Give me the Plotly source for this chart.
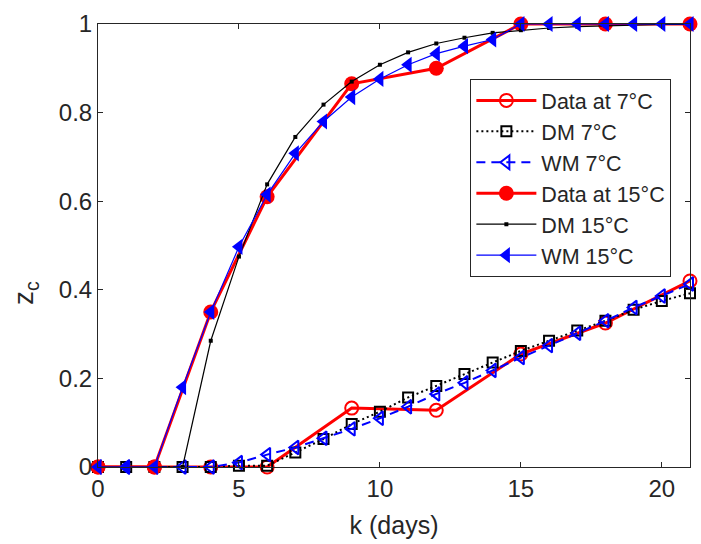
import plotly.graph_objects as go

# Sampling days
days_data = [0, 2, 4, 6, 9, 12, 15, 18, 21]
days_model = list(range(0, 22))

# Measured fraction z_c
data_7 = [0, 0, 0, 0, 0.133, 0.128, 0.255, 0.325, 0.42]
data_15 = [0, 0, 0.35, 0.61, 0.865, 0.90, 1, 1, 1]

# Model predictions (DM / WM) at each day
dm_7 = [0, 0, 0, 0, 0, 0.003, 0.003, 0.033, 0.063, 0.097, 0.125, 0.157,
        0.183, 0.21, 0.236, 0.262, 0.285, 0.308, 0.33, 0.355, 0.375, 0.392]
wm_7 = [0, 0, 0, 0, 0, 0.01, 0.028, 0.044, 0.065, 0.086, 0.11, 0.136,
        0.165, 0.19, 0.218, 0.247, 0.274, 0.302, 0.33, 0.36, 0.386, 0.413]
dm_15 = [0, 0, 0, 0, 0.285, 0.475, 0.638, 0.745, 0.818, 0.87, 0.908, 0.936,
         0.956, 0.969, 0.98, 0.986, 0.991, 0.994, 0.996, 0.998, 0.999, 0.999]
wm_15 = [0, 0, 0, 0.18, 0.35, 0.497, 0.615, 0.708, 0.78, 0.835, 0.876, 0.908,
         0.933, 0.95, 0.965, 1, 1, 1, 1, 1, 1, 1]

x_ticks = [0, 5, 10, 15, 20]
y_ticks = [0, 0.2, 0.4, 0.6, 0.8, 1]
y_tick_text = ["0", "0.2", "0.4", "0.6", "0.8", "1"]

RED = "#ff0000"
BLUE = "#0000ff"
BLACK = "#000000"
AX = "#262626"
FONT = "Arial, Liberation Sans, sans-serif"

fig = go.Figure()

fig.add_trace(go.Scatter(
    x=days_data, y=data_7, name="Data at 7°C", mode="lines+markers",
    line=dict(color=RED, width=3),
    marker=dict(symbol="circle-open", size=13, color=RED, line=dict(width=2, color=RED)),
    cliponaxis=False))
fig.add_trace(go.Scatter(
    x=days_model, y=dm_7, name="DM 7°C", mode="lines+markers",
    line=dict(color=BLACK, width=2, dash="2px,3px"),
    marker=dict(symbol="square-open", size=10, color=BLACK, line=dict(width=2, color=BLACK)),
    cliponaxis=False))
fig.add_trace(go.Scatter(
    x=days_model, y=wm_7, name="WM 7°C", mode="lines+markers",
    line=dict(color=BLUE, width=2, dash="9px,6px"),
    marker=dict(symbol="triangle-left-open", size=12, color=BLUE, line=dict(width=2, color=BLUE)),
    cliponaxis=False))
fig.add_trace(go.Scatter(
    x=days_data, y=data_15, name="Data at 15°C", mode="lines+markers",
    line=dict(color=RED, width=3),
    marker=dict(symbol="circle", size=15, color=RED),
    cliponaxis=False))
fig.add_trace(go.Scatter(
    x=days_model, y=dm_15, name="DM 15°C", mode="lines+markers",
    line=dict(color=BLACK, width=1.2),
    marker=dict(symbol="square", size=4, color=BLACK),
    cliponaxis=False))
fig.add_trace(go.Scatter(
    x=days_model, y=wm_15, name="WM 15°C", mode="lines+markers",
    line=dict(color=BLUE, width=1.2),
    marker=dict(symbol="triangle-left", size=14, color=BLUE),
    cliponaxis=False))

axis_common = dict(
    showline=True, linecolor=AX, linewidth=1, mirror="ticks",
    ticks="inside", ticklen=5, tickcolor=AX, tickwidth=1,
    showgrid=False, zeroline=False,
    tickfont=dict(family=FONT, size=24, color=AX),
)

fig.update_layout(
    width=701, height=544,
    margin=dict(l=98, r=10, t=22, b=77),
    plot_bgcolor="white", paper_bgcolor="white",
    font=dict(family=FONT, color=AX),
    xaxis=dict(range=[0, 21], tickvals=x_ticks,
               title=dict(text="k (days)", font=dict(family=FONT, size=25, color=AX), standoff=15),
               **axis_common),
    yaxis=dict(range=[0, 1], tickvals=y_ticks, ticktext=y_tick_text, **axis_common),
    legend=dict(x=0.629, y=0.876, xanchor="left", yanchor="top",
                bgcolor="white", bordercolor=AX, borderwidth=1,
                font=dict(family=FONT, size=21.5, color=AX),
                itemwidth=60, tracegroupgap=0),
)

# y-axis label, placed beside the 0.4 tick
fig.add_annotation(
    text="z<sub>c</sub>", textangle=-90, showarrow=False,
    xref="paper", x=-0.122, xanchor="center",
    yref="y", y=0.392, yanchor="middle",
    font=dict(family=FONT, size=28, color=AX))

fig.write_html("out.html")
